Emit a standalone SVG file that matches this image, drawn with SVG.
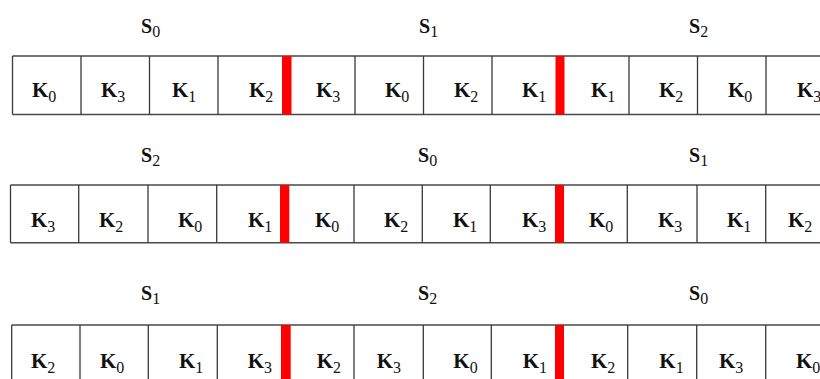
<svg xmlns="http://www.w3.org/2000/svg" width="820" height="379" viewBox="0 0 820 379">
<style>
.h{stroke:#4a4a4a;stroke-width:1.6;fill:none}
.v{stroke:#3a3a3a;stroke-width:1.3;fill:none}
.r{fill:#ff0000}
.k{font-family:"Liberation Serif",serif;font-weight:bold;font-size:21px;fill:#111}
.s{font-family:"Liberation Serif",serif;font-weight:bold;font-size:20px;fill:#111}
.sub{font-size:16px;font-weight:normal}
</style>
<rect width="820" height="379" fill="#fff"/>

<g id="row1">
<text class="s" x="141" y="33">S<tspan class="sub" dy="4">0</tspan></text>
<text class="s" x="419" y="33">S<tspan class="sub" dy="4">1</tspan></text>
<text class="s" x="689" y="33">S<tspan class="sub" dy="4">2</tspan></text>
<path class="h" d="M12.5 56H820M12.5 114.5H820"/>
<path class="v" d="M12.5 56V114.5M81 56V114.5M149.5 56V114.5M218 56V114.5M355 56V114.5M423.5 56V114.5M492 56V114.5M629 56V114.5M697.5 56V114.5M766 56V114.5"/>
<rect class="r" x="282" y="56" width="9.5" height="58.5"/>
<rect class="r" x="555.5" y="56" width="9" height="58.5"/>
<text class="k" x="32" y="97">K<tspan class="sub" dy="5">0</tspan></text>
<text class="k" x="101" y="97">K<tspan class="sub" dy="5">3</tspan></text>
<text class="k" x="172" y="97">K<tspan class="sub" dy="5">1</tspan></text>
<text class="k" x="249" y="97">K<tspan class="sub" dy="5">2</tspan></text>
<text class="k" x="316" y="97">K<tspan class="sub" dy="5">3</tspan></text>
<text class="k" x="385" y="97">K<tspan class="sub" dy="5">0</tspan></text>
<text class="k" x="454" y="97">K<tspan class="sub" dy="5">2</tspan></text>
<text class="k" x="522" y="97">K<tspan class="sub" dy="5">1</tspan></text>
<text class="k" x="591" y="97">K<tspan class="sub" dy="5">1</tspan></text>
<text class="k" x="659" y="97">K<tspan class="sub" dy="5">2</tspan></text>
<text class="k" x="728" y="97">K<tspan class="sub" dy="5">0</tspan></text>
<text class="k" x="797" y="97">K<tspan class="sub" dy="5">3</tspan></text>
</g>

<g id="row2">
<text class="s" x="141" y="162">S<tspan class="sub" dy="4">2</tspan></text>
<text class="s" x="418" y="162">S<tspan class="sub" dy="4">0</tspan></text>
<text class="s" x="689" y="162">S<tspan class="sub" dy="4">1</tspan></text>
<path class="h" d="M10.5 185H820M10.5 242.7H820"/>
<path class="v" d="M10.5 185V242.7M78.7 185V242.7M148 185V242.7M216.7 185V242.7M354 185V242.7M422.3 185V242.7M490.3 185V242.7M627.3 185V242.7M697 185V242.7M765.7 185V242.7"/>
<rect class="r" x="280" y="185" width="9.3" height="57.7"/>
<rect class="r" x="555" y="185" width="9" height="57.7"/>
<text class="k" x="31" y="227">K<tspan class="sub" dy="5">3</tspan></text>
<text class="k" x="99" y="227">K<tspan class="sub" dy="5">2</tspan></text>
<text class="k" x="178" y="227">K<tspan class="sub" dy="5">0</tspan></text>
<text class="k" x="248" y="227">K<tspan class="sub" dy="5">1</tspan></text>
<text class="k" x="315" y="227">K<tspan class="sub" dy="5">0</tspan></text>
<text class="k" x="384" y="227">K<tspan class="sub" dy="5">2</tspan></text>
<text class="k" x="453" y="227">K<tspan class="sub" dy="5">1</tspan></text>
<text class="k" x="522" y="227">K<tspan class="sub" dy="5">3</tspan></text>
<text class="k" x="589" y="227">K<tspan class="sub" dy="5">0</tspan></text>
<text class="k" x="658" y="227">K<tspan class="sub" dy="5">3</tspan></text>
<text class="k" x="727" y="227">K<tspan class="sub" dy="5">1</tspan></text>
<text class="k" x="788" y="227">K<tspan class="sub" dy="5">2</tspan></text>
</g>

<g id="row3">
<text class="s" x="141" y="300">S<tspan class="sub" dy="4">1</tspan></text>
<text class="s" x="418" y="300">S<tspan class="sub" dy="4">2</tspan></text>
<text class="s" x="689" y="300">S<tspan class="sub" dy="4">0</tspan></text>
<path class="h" d="M11.7 325H820M11.7 383H820"/>
<path class="v" d="M11.7 325V383M80 325V383M148.3 325V383M217.3 325V383M354 325V383M423.3 325V383M491.3 325V383M627.7 325V383M696.7 325V383M765.7 325V383"/>
<rect class="r" x="281" y="325" width="9.7" height="58"/>
<rect class="r" x="555" y="325" width="9" height="58"/>
<text class="k" x="31" y="368">K<tspan class="sub" dy="5">2</tspan></text>
<text class="k" x="100" y="368">K<tspan class="sub" dy="5">0</tspan></text>
<text class="k" x="179" y="368">K<tspan class="sub" dy="5">1</tspan></text>
<text class="k" x="247.7" y="368">K<tspan class="sub" dy="5">3</tspan></text>
<text class="k" x="316.7" y="368">K<tspan class="sub" dy="5">2</tspan></text>
<text class="k" x="376.7" y="368">K<tspan class="sub" dy="5">3</tspan></text>
<text class="k" x="453.3" y="368">K<tspan class="sub" dy="5">0</tspan></text>
<text class="k" x="522.7" y="368">K<tspan class="sub" dy="5">1</tspan></text>
<text class="k" x="591" y="368">K<tspan class="sub" dy="5">2</tspan></text>
<text class="k" x="659.3" y="368">K<tspan class="sub" dy="5">1</tspan></text>
<text class="k" x="719" y="368">K<tspan class="sub" dy="5">3</tspan></text>
<text class="k" x="796" y="368">K<tspan class="sub" dy="5">0</tspan></text>
</g>
</svg>
